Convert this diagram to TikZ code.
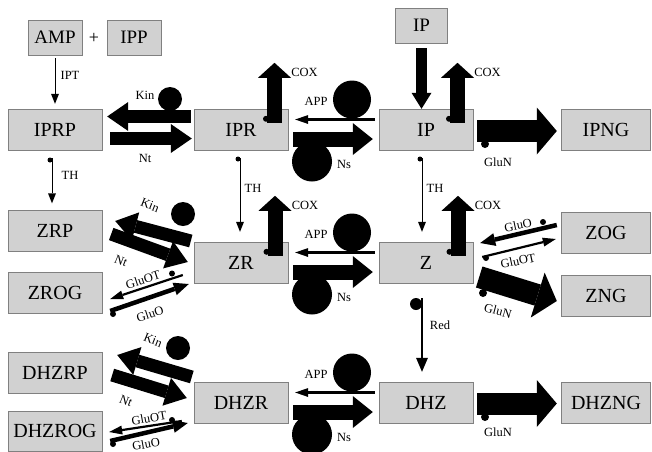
\documentclass[tikz,border=0pt]{standalone}
\usepackage{fontspec}
\setmainfont{Liberation Serif}
\usetikzlibrary{arrows.meta,positioning}

\tikzset{
  pool/.style={draw=black!50, fill=black!18, minimum width=94pt, minimum height=41pt,
    inner sep=0pt, font=\fontsize{20}{24}\selectfont},
  smallpool/.style={pool, minimum width=54pt, minimum height=35pt, font=\fontsize{19}{22}\selectfont},
  enz/.style={inner sep=0pt, font=\fontsize{12.5}{14}\selectfont},
  flux/.style={line width=1pt, -{Triangle[length=10pt,width=8pt,line width=0pt]}},
  redflux/.style={line width=1.8pt, -{Triangle[length=14pt,width=12pt,line width=0pt]}},
  appflux/.style={line width=2.2pt, -{Triangle[length=13pt,width=9pt,line width=0pt]}},
  gluflux/.style={line width=4.5pt, -{Triangle[length=15pt,width=13pt,line width=0pt]}},
  fatflux/.style={line width=13pt, -{Triangle[length=21pt,width=29pt,line width=0pt]}},
  nsflux/.style={line width=15pt, -{Triangle[length=20pt,width=32pt,line width=0pt]}},
  coxflux/.style={line width=15pt, -{Triangle[length=15pt,width=33pt,line width=0pt]}},
  influx/.style={line width=11pt, -{Triangle[length=16pt,width=20pt,line width=0pt]}},
  glunflux/.style={line width=22pt, -{Triangle[length=20pt,width=47pt,line width=0pt]}}
}

\begin{document}
\begin{tikzpicture}[x=1pt,y=-1pt]
  \useasboundingbox (0,0) rectangle (652,451);
  % pools
  \node[smallpool] (amp) at (55,37.5) {AMP};
  \node[font=\fontsize{18}{20}\selectfont] (plus) at (94,38) {+};
  \node[smallpool] (ipp) at (134,37.5) {IPP};
  \node[smallpool, minimum width=52pt] (ipin) at (421.5,25.5) {IP};
  \node[pool] (iprp) at (55,129.5) {IPRP};
  \node[pool] (ipr) at (241,129.5) {IPR};
  \node[pool] (ip) at (426,129.5) {IP};
  \node[pool, minimum width=89pt] (ipng) at (606,129.5) {IPNG};
  \node[pool] (zrp) at (55,231) {ZRP};
  \node[pool] (zrog) at (55,292.5) {ZROG};
  \node[pool] (zr) at (241,262.5) {ZR};
  \node[pool] (z) at (426,262.5) {Z};
  \node[pool, minimum width=89pt] (zog) at (606,232.5) {ZOG};
  \node[pool, minimum width=89pt] (zng) at (606,295.5) {ZNG};
  \node[pool] (dhzrp) at (55,372.5) {DHZRP};
  \node[pool, minimum height=40pt] (dhzrog) at (55,431) {DHZROG};
  \node[pool] (dhzr) at (241,402.5) {DHZR};
  \node[pool] (dhz) at (426,402.5) {DHZ};
  \node[pool, minimum width=89pt] (dhzng) at (606,402.5) {DHZNG};

  % synthesis and input
  \draw[flux, shorten <=3pt, shorten >=5pt] (amp) -- (iprp);
  \node[enz] (lipt) at (70,75) {IPT};
  \draw[influx, shorten <=5pt] (ipin) -- (ipin |- ip.north);

  % hydroxylation (TH) and reduction
  \draw[flux] ([shift={(-3,8)}]iprp.south) -- ([shift={(-3,-7)}]zrp.north);
  \fill (50,160) circle (2.5pt);
  \node[enz] (lth1) at (70,175) {TH};
  \draw[flux] ([shift={(-1,8)}]ipr.south) -- ([shift={(-1,-10)}]zr.north);
  \fill (238,159) circle (2.5pt);
  \node[enz] (lth2) at (253,188) {TH};
  \draw[flux] ([shift={(-4,8)}]ip.south) -- ([shift={(-4,-10)}]z.north);
  \fill (420,159) circle (2.5pt);
  \node[enz] (lth3) at (435,188) {TH};
  \draw[redflux] ([shift={(-4,15)}]z.south) -- ([shift={(-4,-10)}]dhz.north);
  \fill (416,304) circle (6pt);
  \node[enz] (lred) at (440,325) {Red};

  % oxidation (COX)
  \foreach \p/\dx in {ipr/33.5, ip/31.5, zr/34, z/32} {
    \coordinate (cox\p) at ([shift={(\dx,14)}]\p.north);
    \draw[coxflux] (cox\p) -- ++(0,-60);
    \fill ([shift={(-8.5,-4)}]cox\p) circle (3pt);
    \node[enz] (lcox\p) at ([shift={(30,-50)}]cox\p) {COX};
  }

  % ribosides <-> bases (APP, Ns)
  \foreach \l/\r/\y in {ipr/ip/129.5, zr/z/262.5, dhzr/dhz/402.5} {
    \draw[appflux] ([shift={(-4,-10)}]\r.west) -- ([shift={(7,-10)}]\l.east);
    \fill (352,\y-30) circle (19pt);
    \node[enz] (lapp\l) at (316,\y-28) {APP};
    \draw[nsflux] ([shift={(5,9.5)}]\l.east) -- ([shift={(-6,9.5)}]\r.west);
    \fill (312,\y+32) circle (20pt);
    \node[enz] (lns\l) at (344,\y+35) {Ns};
  }

  % phosphates (Kin, Nt)
  \draw[fatflux] ([shift={(-3,-13)}]ipr.west) -- ([shift={(5,-13)}]iprp.east);
  \fill (170,99) circle (12pt);
  \node[enz] (lkin1) at (145,95) {Kin};
  \draw[fatflux] ([shift={(8,9)}]iprp.east) -- ([shift={(-2,9)}]ipr.west);
  \node[enz] (lnt1) at (145,158) {Nt};

  \draw[fatflux] ([shift={(-3,-21.5)}]zr.west) -- ([shift={(13,-10)}]zrp.east);
  \fill (183,214) circle (12pt);
  \node[enz, rotate=-22] (lkin2) at (150,205) {Kin};
  \draw[fatflux] ([shift={(9,3)}]zrp.east) -- ([shift={(-6,-0.5)}]zr.west);
  \node[enz, rotate=-22] (lnt2) at (121,261) {Nt};

  \draw[fatflux] ([shift={(-2,-25.5)}]dhzr.west) -- ([shift={(15,-17.5)}]dhzrp.east);
  \fill (178,348) circle (12pt);
  \node[enz, rotate=-22] (lkin3) at (153,340) {Kin};
  \draw[fatflux] ([shift={(10,2.5)}]dhzrp.east) -- ([shift={(-7,-4.5)}]dhzr.west);
  \node[enz, rotate=-22] (lnt3) at (126,401) {Nt};

  % O-glucosides (GluOT, GluO)
  \draw[appflux] ([shift={(-11,12.5)}]zr.west) -- ([shift={(8,6.5)}]zrog.east);
  \fill (172,273.5) circle (3pt);
  \node[enz, rotate=18] (lgot1) at (143,280) {GluOT};
  \draw[gluflux] ([shift={(8,18.5)}]zrog.east) -- ([shift={(-5,21.5)}]zr.west);
  \fill (113,314) circle (3pt);
  \node[enz, rotate=18] (lgo1) at (150,314) {GluO};

  \draw[appflux] ([shift={(-12,18.5)}]dhzr.west) -- ([shift={(7,1)}]dhzrog.east);
  \fill (172,420) circle (3pt);
  \node[enz, rotate=10] (lgot2) at (149,418) {GluOT};
  \draw[gluflux] ([shift={(8,10)}]dhzrog.east) -- ([shift={(-6,20.5)}]dhzr.west);
  \fill (113,444) circle (3pt);
  \node[enz, rotate=10] (lgo2) at (146,444) {GluO};

  \draw[gluflux] ([shift={(-4.5,-7.5)}]zog.west) -- ([shift={(7,-19.5)}]z.east);
  \fill (543,222) circle (3pt);
  \node[enz, rotate=12] (lgo3) at (518,225) {GluO};
  \draw[appflux] ([shift={(9,-5.5)}]z.east) -- ([shift={(-5.5,6.5)}]zog.west);
  \fill (486,258) circle (3pt);
  \node[enz, rotate=12] (lgot3) at (518,261) {GluOT};

  % N-glucosides (GluN)
  \draw[glunflux] ([shift={(4,1.5)}]ip.east) -- ([shift={(-4.5,1.5)}]ipng.west);
  \fill (485,144) circle (4pt);
  \node[enz] (lgn1) at (498,162) {GluN};
  \draw[glunflux] ([shift={(6,14.5)}]z.east) -- ([shift={(-4.5,5.5)}]zng.west);
  \fill (483,293) circle (4pt);
  \node[enz, rotate=-15] (lgn2) at (498,311) {GluN};
  \draw[glunflux] ([shift={(4,1)}]dhz.east) -- ([shift={(-4.5,1)}]dhzng.west);
  \fill (485,417) circle (4pt);
  \node[enz] (lgn3) at (498,432) {GluN};
\end{tikzpicture}
\end{document}
